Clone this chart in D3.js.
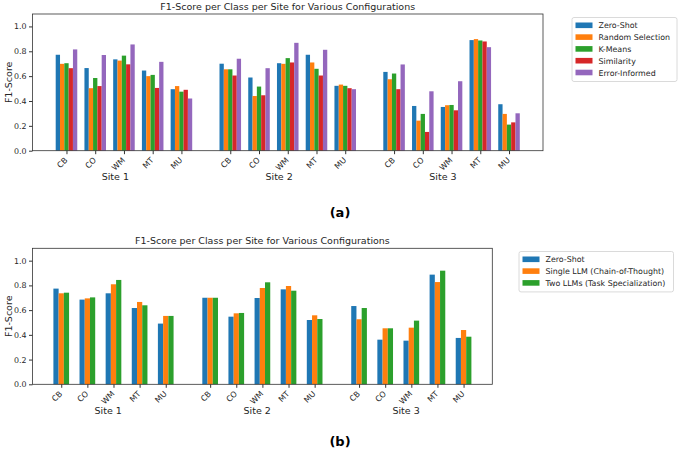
<!DOCTYPE html>
<html>
<head>
<meta charset="utf-8">
<script src="https://cdn.jsdelivr.net/npm/d3@7"></script>
<style>
  body { margin: 0; background: #fff; }
  svg { font-family: "DejaVu Sans", sans-serif; }
</style>
</head>
<body>
<div id="chart"></div>
<script>
// categories
var classes = ["CB", "CO", "WM", "MT", "MU"];
var sites = ["Site 1", "Site 2", "Site 3"];
var yTicks = [0, 0.2, 0.4, 0.6, 0.8, 1.0];

// panel (a) series, values ordered site 1..3, classes CB CO WM MT MU
var seriesA = ["Zero-Shot", "Random Selection", "K-Means", "Similarity", "Error-Informed"];
var zeroShotA    = [0.772, 0.665, 0.735, 0.645, 0.495,  0.700, 0.589, 0.704, 0.772, 0.522,  0.634, 0.360, 0.352, 0.890, 0.374];
var randomSelA   = [0.699, 0.503, 0.725, 0.600, 0.520,  0.655, 0.440, 0.699, 0.710, 0.532,  0.575, 0.242, 0.366, 0.898, 0.296];
var kMeansA      = [0.704, 0.585, 0.765, 0.610, 0.475,  0.655, 0.516, 0.745, 0.659, 0.522,  0.621, 0.296, 0.368, 0.887, 0.210];
var similarityA  = [0.664, 0.520, 0.695, 0.505, 0.490,  0.605, 0.446, 0.710, 0.605, 0.503,  0.495, 0.151, 0.325, 0.879, 0.228];
var errorInfA    = [0.815, 0.770, 0.855, 0.715, 0.420,  0.740, 0.664, 0.868, 0.812, 0.495,  0.694, 0.478, 0.559, 0.833, 0.301];

// panel (b) series
var seriesB = ["Zero-Shot", "Single LLM (Chain-of-Thought)", "Two LLMs (Task Specialization)"];
var zeroShotB  = [0.774, 0.685, 0.736, 0.617, 0.491,  0.700, 0.547, 0.698, 0.768, 0.520,  0.633, 0.361, 0.353, 0.887, 0.375];
var singleLlmB = [0.736, 0.695, 0.809, 0.666, 0.553,  0.700, 0.574, 0.779, 0.795, 0.558,  0.526, 0.453, 0.458, 0.827, 0.439];
var twoLlmsB   = [0.741, 0.703, 0.844, 0.639, 0.553,  0.700, 0.577, 0.825, 0.757, 0.528,  0.617, 0.453, 0.515, 0.919, 0.385];

var colors = ["#1f77b4", "#ff7f0e", "#2ca02c", "#d62728", "#9467bd"];
var TITLE = "F1-Score per Class per Site for Various Configurations";
var SITESTEP = 5.7;

var svg = d3.select("#chart").append("svg")
    .attr("width", 680)
    .attr("height", 455);

function BarPanel(cfg){
    this.cfg = cfg;
    this.g = svg.append("g");
    this.draw();
}

BarPanel.prototype.draw = function(){
    var c = this.cfg, g = this.g;
    var n = c.values.length, w = c.barWidth;
    var lastPos = (sites.length - 1) * SITESTEP + classes.length - 1;
    var lo = -w / 2, hi = lastPos + (n - 1) * w + w / 2;
    var m = (hi - lo) * 0.05;

    var x = d3.scaleLinear().domain([lo - m, hi + m]).range([c.left, c.right]);
    var y = d3.scaleLinear().domain([0, 1.1]).range([c.bottom, c.top]);

    var items = [];
    sites.forEach(function(s, si){
        classes.forEach(function(cl, ci){
            items.push({site: si, cls: cl, pos: si * SITESTEP + ci, idx: si * classes.length + ci});
        });
    });

    // bars
    c.values.forEach(function(vals, k){
        g.append("g").selectAll("rect")
            .data(items)
            .join("rect")
            .attr("x", function(d){ return x(d.pos + k * w - w / 2); })
            .attr("width", function(d){ return x(d.pos + k * w + w / 2) - x(d.pos + k * w - w / 2); })
            .attr("y", function(d){ return y(vals[d.idx]); })
            .attr("height", function(d){ return y(0) - y(vals[d.idx]); })
            .attr("fill", colors[k]);
    });

    // y axis
    var yAxis = g.append("g")
        .attr("transform", "translate(" + c.left + ",0)")
        .call(d3.axisLeft(y).tickValues(yTicks).tickFormat(d3.format(".1f")).tickSize(3.5).tickPadding(2.5));
    yAxis.select(".domain").remove();
    yAxis.selectAll("text").attr("font-size", 7.9).attr("fill", "#262626").attr("font-family", "DejaVu Sans");
    yAxis.selectAll("line").attr("stroke", "#333");

    // x axis
    var tickPos = items.map(function(d){ return d.pos + (n - 1) * w / 2; });
    var xAxis = g.append("g")
        .attr("transform", "translate(0," + c.bottom + ")")
        .call(d3.axisBottom(x).tickValues(tickPos).tickFormat(function(d, i){ return items[i].cls; }).tickSize(3.5));
    xAxis.select(".domain").remove();
    xAxis.selectAll("line").attr("stroke", "#333");
    xAxis.selectAll("text")
        .attr("font-size", 7.9).attr("fill", "#262626").attr("font-family", "DejaVu Sans")
        .attr("text-anchor", "end")
        .attr("dy", null)
        .attr("y", 0)
        .attr("transform", "translate(1,10) rotate(-45)");

    // frame
    g.append("rect")
        .attr("x", c.left).attr("y", c.top)
        .attr("width", c.right - c.left).attr("height", c.bottom - c.top)
        .attr("fill", "none").attr("stroke", "#333").attr("stroke-width", 0.8);

    // site labels
    g.selectAll(".site")
        .data(sites)
        .join("text")
        .attr("x", function(d, i){ return x(i * SITESTEP + 2); })
        .attr("y", c.bottom + c.siteDy)
        .attr("text-anchor", "middle")
        .attr("font-size", 9.5)
        .attr("fill", "#262626")
        .text(function(d){ return d; });

    g.append("text")
        .attr("transform", "translate(" + 12 + "," + ((c.top + c.bottom) / 2) + ") rotate(-90)")
        .attr("text-anchor", "middle")
        .attr("font-size", 9.5)
        .attr("fill", "#262626")
        .text("F1-Score");

    g.append("text")
        .attr("x", (c.left + c.right) / 2)
        .attr("y", c.top - 4)
        .attr("text-anchor", "middle")
        .attr("font-size", 9.5)
        .attr("fill", "#262626")
        .text(TITLE);

    // legend
    var lg = g.append("g").attr("transform", "translate(" + c.legendX + "," + c.legendY + ")");
    lg.append("rect")
        .attr("width", c.legendW).attr("height", c.names.length * 11.8 + 5)
        .attr("rx", 2)
        .attr("fill", "#fff").attr("stroke", "#d0d0d0").attr("stroke-width", 0.8);
    c.names.forEach(function(name, k){
        lg.append("rect")
            .attr("x", 3.5).attr("y", 5 + k * 11.8)
            .attr("width", 17).attr("height", 5.6)
            .attr("fill", colors[k]);
        lg.append("text")
            .attr("x", 26.5).attr("y", 10.8 + k * 11.8)
            .attr("font-size", 7.9)
            .attr("fill", "#262626")
            .text(name);
    });

    svg.append("text")
        .attr("x", c.captionX).attr("y", c.captionY)
        .attr("text-anchor", "middle")
        .attr("font-size", 13)
        .attr("font-weight", "bold")
        .text(c.caption);
};

new BarPanel({
    values: [zeroShotA, randomSelA, kMeansA, similarityA, errorInfA],
    names: seriesA, barWidth: 0.15,
    left: 32.5, right: 543, top: 14, bottom: 150.7, siteDy: 29,
    legendX: 572, legendY: 17.5, legendW: 105,
    caption: "(a)", captionX: 340, captionY: 217
});

new BarPanel({
    values: [zeroShotB, singleLlmB, twoLlmsB],
    names: seriesB, barWidth: 0.2,
    left: 32.5, right: 492.3, top: 248.3, bottom: 384.3, siteDy: 30,
    legendX: 519, legendY: 251.5, legendW: 154.5,
    caption: "(b)", captionX: 340, captionY: 446
});
</script>
</body>
</html>
